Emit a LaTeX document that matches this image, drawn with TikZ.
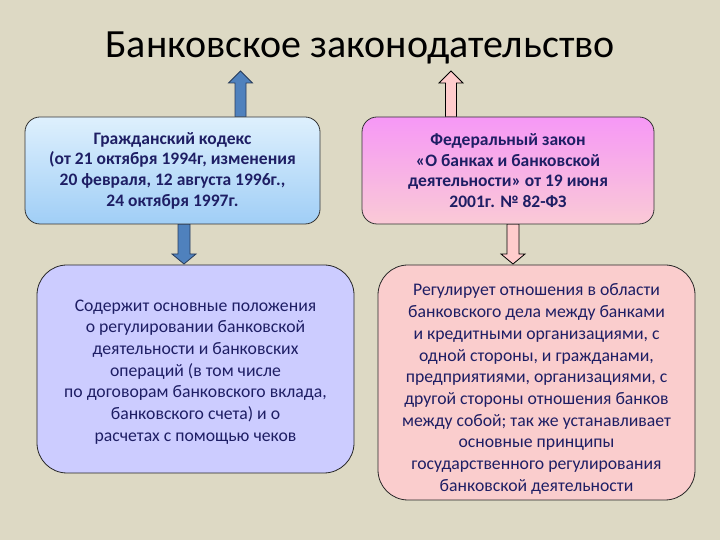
\documentclass[tikz,border=0pt]{standalone}
\usepackage{fontspec}
\setmainfont{Carlito}
\usetikzlibrary{calc}
\definecolor{bgc}{RGB}{221,217,196}
\definecolor{txt}{RGB}{30,30,100}
\definecolor{arrblue}{RGB}{79,129,189}
\definecolor{arrblueb}{RGB}{40,60,90}
\definecolor{arrpink}{RGB}{255,204,204}
\definecolor{b1top}{RGB}{222,240,253}
\definecolor{b1bot}{RGB}{160,206,246}
\definecolor{b2top}{RGB}{246,152,246}
\definecolor{b2bot}{RGB}{250,202,214}
\definecolor{b3fill}{RGB}{204,204,255}
\definecolor{b4fill}{RGB}{250,205,205}
\newcommand{\blockarr}[8]{% x, ybase, yhead, ytip, shaft half, head half, fill, draw
  \path[draw=#8, fill=#7, line width=0.8pt, line join=miter]
    (#1-#5,#2) -- (#1-#5,#3) -- (#1-#6,#3) -- (#1,#4) -- (#1+#6,#3) -- (#1+#5,#3) -- (#1+#5,#2) -- cycle;}
\tikzset{
  topbox/.style={draw=black!80, line width=0.8pt, rounded corners=15pt, inner sep=0pt,
    align=center, text=txt, font=\fontsize{17.5}{20.7}\selectfont\bfseries},
  lowbox/.style={draw=black!85, line width=0.8pt, rounded corners=30pt, inner sep=0pt},
  lowtext/.style={text=txt, align=center, font=\fontsize{17.7}{21.7}\selectfont},
}
\begin{document}
\begin{tikzpicture}[x=1pt,y=1pt]
\fill[bgc] (0,0) rectangle (720,540);
\useasboundingbox (0,0) rectangle (720,540);
\node[font=\fontsize{40}{44}\selectfont, text=black] (title) at (360,492) {Банковское законодательство};
% arrows
\blockarr{240.5}{423}{457}{469}{5.5}{12}{arrblue}{arrblueb}
\blockarr{451}{423}{457}{469}{5.5}{12}{arrpink}{black}
\blockarr{184}{316}{286}{276}{6}{12}{arrblue}{arrblueb}
\blockarr{513}{316}{286}{276}{6}{12}{arrpink}{black}
% boxes
\node[topbox, top color=b1top, bottom color=b1bot, minimum width=295pt, minimum height=107pt] (b1) at (172.5,369.5)
  {Гражданский кодекс\\(от 21 октября 1994г, изменения\\20 февраля, 12 августа 1996г.,\\24 октября 1997г.};
\node[topbox, top color=b2top, bottom color=b2bot, minimum width=292pt, minimum height=107pt] (b2) at (508,369.5)
  {Федеральный закон\\«О банках и банковской\\деятельности» от 19 июня\\2001г. № 82-ФЗ};
\node[lowbox, fill=b3fill, minimum width=317pt, minimum height=208pt] (b3) at (195.5,171) {};
\node[lowtext] (t3) at (195.5,168)
  {Содержит основные положения\\о регулировании банковской\\деятельности и банковских\\операций (в том числе\\по договорам банковского вклада,\\банковского счета) и о\\расчетах с помощью чеков};
\node[lowbox, fill=b4fill, minimum width=317pt, minimum height=235pt] (b4) at (536.5,157.5) {};
\node[lowtext] (t4) at (536.5,151)
  {Регулирует отношения в области\\банковского дела между банками\\и кредитными организациями, с\\одной стороны, и гражданами,\\предприятиями, организациями, с\\другой стороны отношения банков\\между собой; так же устанавливает\\основные принципы\\государственного регулирования\\банковской деятельности};
\end{tikzpicture}
\end{document}
